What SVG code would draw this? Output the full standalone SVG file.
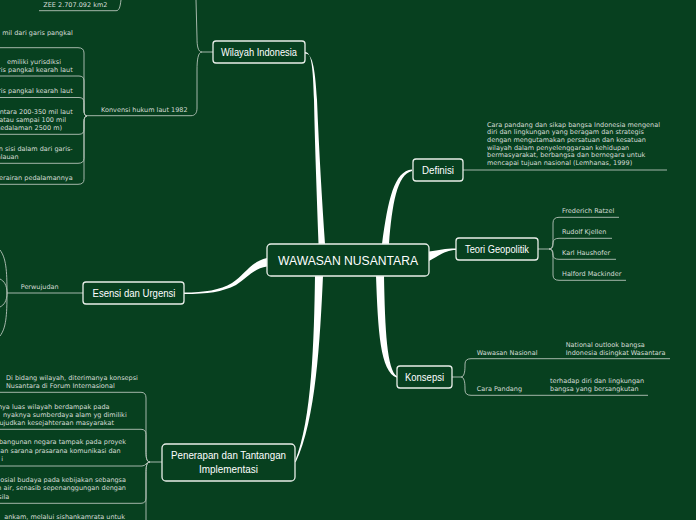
<svg xmlns="http://www.w3.org/2000/svg" width="696" height="520" viewBox="0 0 696 520">
<style>
.bg{fill:#07401f}
.box{fill:#07401f;stroke:#e9eee9;stroke-width:1.3}
.nt{font-family:"Liberation Sans",Arial,sans-serif;fill:#ffffff;text-anchor:middle}
.lf{font-family:"DejaVu Sans",Verdana,sans-serif;font-size:6.5px;fill:#d6ddd7}
.e{text-anchor:end}
.ln{fill:none;stroke:#b7c4ba;stroke-width:0.9}
.th{fill:#ffffff;stroke:none}
</style>
<rect class="bg" x="0" y="0" width="696" height="520"/>
<g id="connectors">
  <path class="th" d="M305,52 C312,52 313,70 314,100 C315,150 317,200 318.5,244 L325,244 C322,200 319,150 317,100 C315,65 312,53.5 305,53.5 Z"/>
  <path class="th" d="M382,244 C388,200 394,171 412,169.5 L412,171 C397,174 392,205 389,244 Z"/>
  <path class="th" d="M429,251.5 C440,250 444,248.5 456,248.5 L456,250 C446,250 440,255 429,261 Z"/>
  <path class="th" d="M267,258 C250,262 245,275 232,283 C220,290 205,292.5 184,292.5 L184,294 C208,294 222,292 236,285 C248,277 255,268 267,266.5 Z"/>
  <path class="th" d="M376,276 C378,330 380,372 397,377.7 L397,376.3 C387,370 385,330 384,276 Z"/>
  <path class="th" d="M315,276 C314,340 312,420 295,461.3 L295.6,462.6 C316,420 320,340 323,276 Z"/>
  <!-- Wilayah Indonesia branches -->
  <path class="ln" d="M213,52 H202 M202,52 C198,52 197,46 197,38 L196,0 M202,52 C198,52 197,60 197,70 L197,108 C197,113 195,115.7 191,115.7 H87"/>
  <path class="ln" d="M39,10.7 H116 C119,10.7 120,8 121,0"/>
  <path class="ln" d="M87,116 Q84,116 84,110 L84,53 Q84,47.7 78,47.7 H0"/>
  <path class="ln" d="M87,116 Q84,116 84,110 L84,81 Q84,76 79,76 H0"/>
  <path class="ln" d="M87,116 Q84,116 84,110 L84,102.5 Q84,97.5 79,97.5 H0"/>
  <path class="ln" d="M87,116 Q84,116 84,122 L84,129.3 Q84,134.3 79,134.3 H0"/>
  <path class="ln" d="M87,116 Q84,116 84,122 L84,158.3 Q84,163.3 78,163.3 H0"/>
  <path class="ln" d="M87,116 Q84,116 84,122 L84,179.3 Q84,184.3 78,184.3 H0"/>
  <!-- Definisi -->
  <path class="ln" d="M463,170 H667"/>
  <!-- Teori Geopolitik -->
  <path class="ln" d="M538,249 H549 M549,249 C553,249 553,244 553,238 L553,223 Q553,217.3 559,217.3 H619"/>
  <path class="ln" d="M549,249 C553,249 553,246 553,243 Q553,238.3 559,238.3 H612"/>
  <path class="ln" d="M549,249 C553,249 553,252 553,255 Q553,259.3 559,259.3 H616"/>
  <path class="ln" d="M549,249 C553,249 553,254 553,260 L553,275 Q553,280.3 559,280.3 H626"/>
  <!-- Konsepsi -->
  <path class="ln" d="M452,377 H461 M461,377 C464,377 465,372 465,366 L465,364 Q465,358.7 471,358.7 H670"/>
  <path class="ln" d="M461,377 C464,377 465,382 465,388 L465,390 Q465,395.3 471,395.3 H648"/>
  <!-- Esensi -->
  <path class="ln" d="M83,293 H7"/>
  <path class="ln" d="M7,293 C7,270 6,258 0,250 M7,293 C7,285 4,281 0,279 M7,293 C7,301 4,305 0,307 M7,293 C7,316 6,328 0,336"/>
  <!-- Penerapan -->
  <path class="ln" d="M162,462 H150"/>
  <path class="ln" d="M150,462 C146,462 146,456 146,450 L146,398 Q146,392.3 141,392.3 H0"/>
  <path class="ln" d="M150,462 C146,462 146,456 146,450 L146,434.5 Q146,429.3 141,429.3 H0"/>
  <path class="ln" d="M150,462 C146,462 146,466 142,466 H0"/>
  <path class="ln" d="M150,462 C146,462 146,468 146,474 L146,498 Q146,503.3 141,503.3 H0"/>
  <path class="ln" d="M150,462 C146,462 146,468 146,474 L146,520"/>
</g>
<g id="central">
  <rect class="box" x="267" y="244" width="162" height="32" rx="4"/>
  <text class="nt" x="348" y="264.5" font-size="12.5" textLength="140" lengthAdjust="spacingAndGlyphs">WAWASAN NUSANTARA</text>
</g>
<g id="wilayah">
  <rect class="box" x="213" y="41" width="92" height="22" rx="3"/>
  <text class="nt" x="259" y="55.5" font-size="10" textLength="76" lengthAdjust="spacingAndGlyphs">Wilayah Indonesia</text>
</g>
<g id="wilayah-leaves">
  <text class="lf" x="43.3" y="7.2">ZEE 2.707.092 km2</text>
  <text class="lf e" x="72.7" y="34.8">mil dari garis pangkal</text>
  <text class="lf e" x="61" y="63.5">emiliki yurisdiksi</text>
  <text class="lf e" x="72.7" y="71.8">ris pangkal kearah laut</text>
  <text class="lf e" x="72.7" y="92.5">ris pangkal kearah laut</text>
  <text class="lf" x="101" y="111.8">Konvensi hukum laut 1982</text>
  <text class="lf e" x="72.7" y="113.5">ntara 200-350 mil laut</text>
  <text class="lf e" x="66" y="121.8">atau sampai 100 mil</text>
  <text class="lf e" x="62" y="130.2">kedalaman 2500 m)</text>
  <text class="lf e" x="72.7" y="150.8">n sisi dalam dari garis-</text>
  <text class="lf e" x="18.7" y="159.2">alauan</text>
  <text class="lf e" x="72.7" y="179.8">erairan pedalamannya</text>
</g>
<g id="definisi">
  <rect class="box" x="413" y="159" width="50" height="22" rx="3"/>
  <text class="nt" x="438" y="174" font-size="10" textLength="32" lengthAdjust="spacingAndGlyphs">Definisi</text>
</g>
<g id="definisi-leaf">
  <text class="lf" x="487" y="126.5">Cara pandang dan sikap bangsa Indonesia mengenal</text>
  <text class="lf" x="487" y="134.2">diri dan lingkungan yang beragam dan strategis</text>
  <text class="lf" x="487" y="141.8">dengan mengutamakan persatuan dan kesatuan</text>
  <text class="lf" x="487" y="149.5">wilayah dalam penyelenggaraan kehidupan</text>
  <text class="lf" x="487" y="157.2">bermasyarakat, berbangsa dan bernegara untuk</text>
  <text class="lf" x="487" y="164.8">mencapai tujuan nasional (Lemhanas, 1999)</text>
</g>
<g id="teori">
  <rect class="box" x="456" y="238" width="82" height="22" rx="3"/>
  <text class="nt" x="497" y="252.5" font-size="10" textLength="64" lengthAdjust="spacingAndGlyphs">Teori Geopolitik</text>
</g>
<g id="teori-leaves">
  <text class="lf" x="562" y="212.8">Frederich Ratzel</text>
  <text class="lf" x="562" y="233.8">Rudolf Kjellen</text>
  <text class="lf" x="562" y="254.8">Karl Haushofer</text>
  <text class="lf" x="562" y="275.8">Halford Mackinder</text>
</g>
<g id="konsepsi">
  <rect class="box" x="397" y="366" width="55" height="22" rx="3"/>
  <text class="nt" x="424.5" y="380.5" font-size="10" textLength="39" lengthAdjust="spacingAndGlyphs">Konsepsi</text>
</g>
<g id="konsepsi-leaves">
  <text class="lf" x="476.7" y="355.2">Wawasan Nasional</text>
  <text class="lf" x="565.7" y="347.2">National outlook bangsa</text>
  <text class="lf" x="565.7" y="355.2">Indonesia disingkat Wasantara</text>
  <text class="lf" x="476.7" y="391.2">Cara Pandang</text>
  <text class="lf" x="550" y="383.2">terhadap diri dan lingkungan</text>
  <text class="lf" x="550" y="391.2">bangsa yang bersangkutan</text>
</g>
<g id="esensi">
  <rect class="box" x="83" y="282" width="101" height="22" rx="3"/>
  <text class="nt" x="134" y="296.5" font-size="10" textLength="83" lengthAdjust="spacingAndGlyphs">Esensi dan Urgensi</text>
</g>
<g id="esensi-leaves">
  <text class="lf" x="20.7" y="289.2">Perwujudan</text>
</g>
<g id="penerapan">
  <rect class="box" x="162" y="444" width="133" height="37" rx="4"/>
  <text class="nt" x="228.5" y="458.5" font-size="10" textLength="115" lengthAdjust="spacingAndGlyphs">Penerapan dan Tantangan</text>
  <text class="nt" x="228.5" y="473" font-size="10" textLength="59" lengthAdjust="spacingAndGlyphs">Implementasi</text>
</g>
<g id="penerapan-leaves">
  <text class="lf" x="6" y="379.8">Di bidang wilayah, diterimanya konsepsi</text>
  <text class="lf" x="6" y="387.8">Nusantara di Forum Internasional</text>
  <text class="lf e" x="109.5" y="408.5">nya luas wilayah berdampak pada</text>
  <text class="lf e" x="126.7" y="416.5">nyaknya sumberdaya alam yg dimiliki</text>
  <text class="lf e" x="114" y="424.5">ujudkan kesejahteraan masyarakat</text>
  <text class="lf e" x="126" y="444.2">bangunan negara tampak pada proyek</text>
  <text class="lf e" x="120.7" y="452.7">an sarana prasarana komunikasi dan</text>
  <text class="lf e" x="3" y="460.8">i</text>
  <text class="lf e" x="126" y="481.5">osial budaya pada kebijakan sebangsa</text>
  <text class="lf e" x="126" y="490.2">n air, senasib sepenanggungan dengan</text>
  <text class="lf e" x="9.3" y="499.2">sila</text>
  <text class="lf e" x="125" y="519">ankam, melalui sishankamrata untuk</text>
</g>
</svg>
